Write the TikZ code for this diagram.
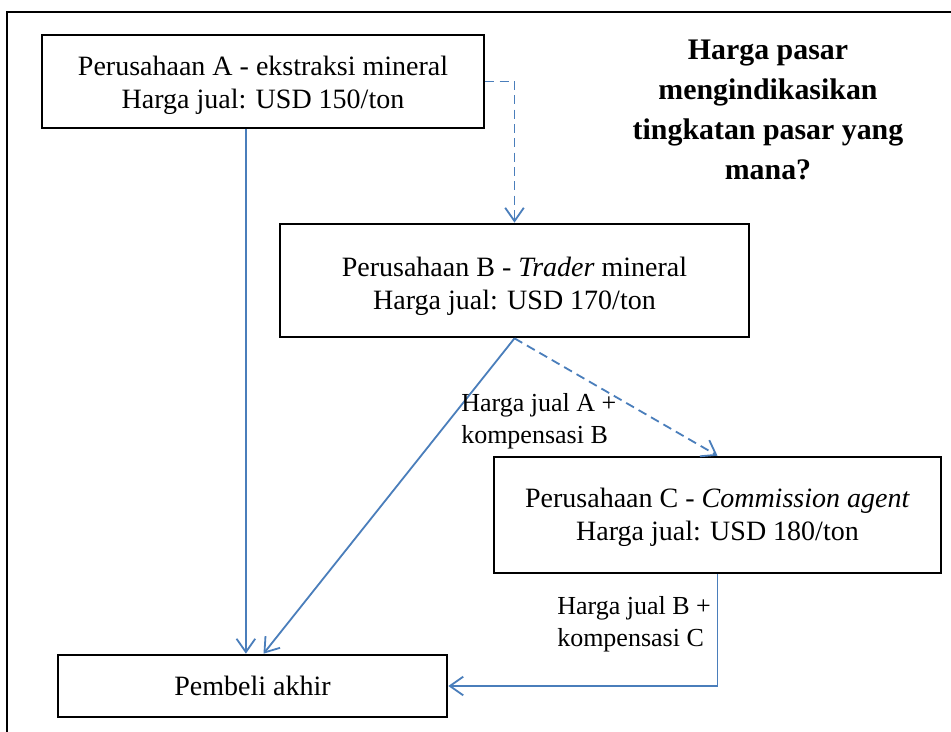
\documentclass[tikz,border=0pt]{standalone}
\usepackage{fontspec}
\setmainfont{Liberation Serif}
\usetikzlibrary{arrows.meta,calc}

\definecolor{flowblue}{HTML}{4A7EBB}

\tikzset{
  company/.style={draw=black, line width=2pt, rectangle, inner sep=0pt},
  companytext/.style={align=center, inner sep=0pt,
    font=\fontsize{21}{24.75}\selectfont},
  flow/.style={draw=flowblue, line width=1.35pt,
    -{Straight Barb[length=10pt,width=14pt,line width=1.35pt]}},
  dashflow/.style={flow, dash pattern=on 6.75pt off 4pt},
  flowlabel/.style={anchor=west, align=left, inner sep=0pt,
    font=\fontsize{19.5}{24}\selectfont},
  question/.style={align=center, inner sep=0pt,
    font=\fontsize{22.4}{30}\selectfont\bfseries}
}

\begin{document}
\begin{tikzpicture}[x=0.75pt, y=-0.75pt]
  % page area
  \useasboundingbox[fill=white] (0,0) rectangle (951,732);

  % surrounding frame (only its left and top sides fall on the page)
  \draw[line width=1.5pt] (7,732) -- (7,12) -- (951,12);

  % companies along the chain
  \node[company, minimum width=331.5pt, minimum height=69.75pt] (A) at (263,81.5) {};
  \node[companytext] (At) at (263,85)
    {Perusahaan A - ekstraksi mineral\\Harga jual: USD 150/ton};
  \node[company, minimum width=351.75pt, minimum height=84.75pt] (B) at (514.5,280.5) {};
  \node[companytext] (Bt) at (514.5,286)
    {Perusahaan B - \textit{Trader} mineral\\Harga jual: USD 170/ton};
  \node[company, minimum width=335.25pt, minimum height=87pt] (C) at (717.5,515) {};
  \node[companytext] (Ct) at (717.5,517)
    {Perusahaan C - \textit{Commission agent}\\Harga jual: USD 180/ton};
  \node[company, minimum width=291.75pt, minimum height=46.5pt] (P) at (252.5,686) {};
  \node[companytext] (Pt) at (252.5,686) {Pembeli akhir};

  % question
  \node[question] (Q) at (768,110)
    {Harga pasar\\mengindikasikan\\tingkatan pasar yang\\mana?};

  % flows of goods
  \draw[flow] ($(A.south west)!0.4615!(A.south east)$) coordinate (a1)
    -- (a1 |- P.north);
  \draw[flow] (B.south) -- ($(P.north)+(11,0)$);
  \draw[flow] (C.south) -- (C.south |- P.east) -- (P.east);

  % flows through intermediaries
  \draw[dashflow] (A.east) -| (B.north);
  \draw[dashflow] (B.south) -- (C.north);

  % price labels
  \node[flowlabel] (L1) at (461,421) {Harga jual A +\\kompensasi B};
  \node[flowlabel] (L2) at (557,624) {Harga jual B +\\kompensasi C};
\end{tikzpicture}
\end{document}
